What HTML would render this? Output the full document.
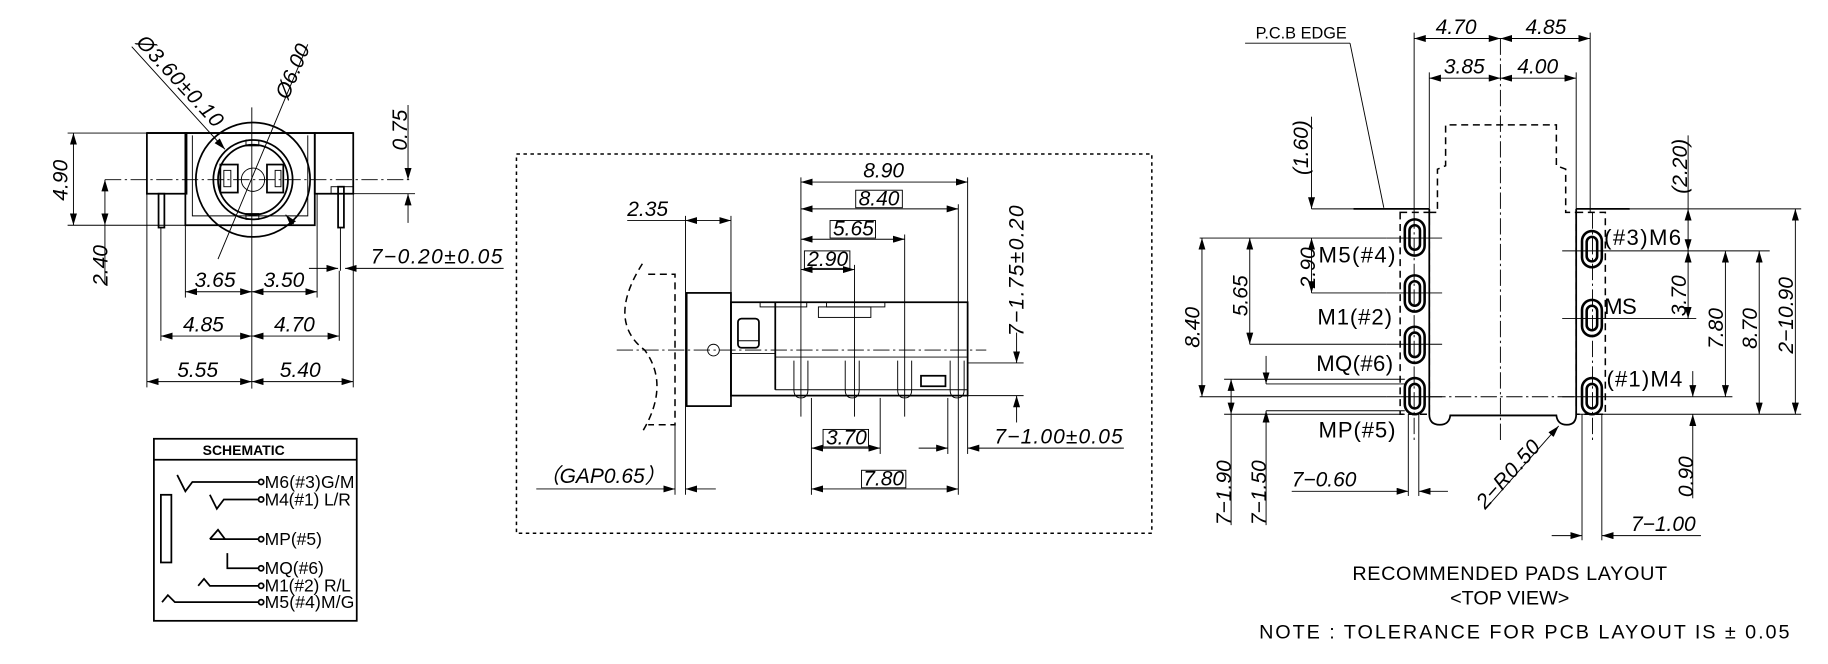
<!DOCTYPE html>
<html><head><meta charset="utf-8"><style>
html,body{margin:0;padding:0;background:#fff;}
svg{display:block}
text{font-family:"Liberation Sans",sans-serif;fill:#000;}
.d{font-style:italic;font-size:18px;}
.n{font-size:19px;}
.t{stroke:#000;stroke-width:0.8;fill:none;}
.o{stroke:#000;stroke-width:1.5;fill:none;}
.dd{stroke:#000;stroke-width:0.8;fill:none;stroke-dasharray:14 3 2 3;}
.da{stroke:#000;stroke-width:1.3;fill:none;stroke-dasharray:6 4;}
</style></head><body>
<svg width="1828" height="664" viewBox="0 0 1568 569" preserveAspectRatio="none" xmlns="http://www.w3.org/2000/svg">
<defs>
<marker id="a" viewBox="0 0 10 6" refX="10" refY="3" markerWidth="10" markerHeight="6" markerUnits="userSpaceOnUse" orient="auto-start-reverse"><path d="M0,0 L10,3 L0,6 z" fill="#000"/></marker>
</defs>

<g>
<line class="t" x1="216" y1="92" x2="216" y2="333"/>
<line class="dd" x1="90" y1="154" x2="352" y2="154"/>
<rect class="o" x="126" y="114" width="34" height="52"/>
<rect class="o" x="270" y="114" width="33" height="52"/>
<rect class="o" x="159" y="114" width="111" height="79"/>
<path class="t" d="M165,116 V185 H264 V116"/>
<line class="o" x1="126" y1="114" x2="303" y2="114"/>
<rect class="o" x="136" y="166" width="5" height="29"/>
<rect class="o" x="290" y="160" width="5" height="35"/>
<rect class="t" x="284" y="160" width="19" height="6"/>
<line class="t" x1="292" y1="195" x2="292" y2="232"/>
<circle class="o" cx="217" cy="154" r="49" fill="#fff"/>
<circle class="o" cx="217" cy="154" r="34"/>
<circle class="o" cx="217" cy="154" r="30"/>
<circle class="t" cx="217" cy="154" r="10"/>
<rect class="o" x="189" y="141" width="15" height="24"/>
<rect class="t" x="192" y="146" width="6" height="14"/>
<rect class="o" x="229" y="141" width="14" height="24"/>
<rect class="t" x="236" y="146" width="5" height="14"/>
<rect class="t" x="211" y="120" width="11" height="5"/>
<rect class="t" x="211" y="183" width="11" height="5"/>
<line class="t" x1="113" y1="40" x2="193" y2="128" marker-end="url(#a)"/>
<line class="t" x1="245" y1="184" x2="252" y2="192" marker-start="url(#a)"/>
<text class="d" transform="translate(116,37) rotate(47)" textLength="100">Ø3.60±0.10</text>
<line class="t" x1="264" y1="38" x2="187" y2="222"/>
<text class="d" transform="translate(247,86) rotate(-67)">Ø6.00</text>
<line class="t" x1="58" y1="114" x2="126" y2="114"/>
<line class="t" x1="58" y1="193" x2="159" y2="193"/>
<line class="t" x1="63" y1="114" x2="63" y2="193" marker-start="url(#a)" marker-end="url(#a)"/>
<text class="d" transform="translate(58,172) rotate(-90)">4.90</text>
<line class="t" x1="90" y1="154" x2="90" y2="193" marker-start="url(#a)" marker-end="url(#a)"/>
<line class="t" x1="90" y1="193" x2="90" y2="244"/>
<text class="d" transform="translate(92,245) rotate(-90)">2.40</text>
<line class="t" x1="303" y1="166" x2="356" y2="166"/>
<line class="t" x1="350" y1="90" x2="350" y2="154" marker-end="url(#a)"/>
<line class="t" x1="350" y1="191" x2="350" y2="166" marker-end="url(#a)"/>
<text class="d" transform="translate(349,129) rotate(-90)">0.75</text>
<line class="t" x1="159" y1="193" x2="159" y2="255"/>
<line class="t" x1="272" y1="166" x2="272" y2="255"/>
<line class="t" x1="138" y1="195" x2="138" y2="292"/>
<line class="t" x1="291" y1="232" x2="291" y2="292"/>
<line class="t" x1="126" y1="166" x2="126" y2="332"/>
<line class="t" x1="303" y1="166" x2="303" y2="332"/>
<line class="t" x1="159" y1="250" x2="216" y2="250" marker-start="url(#a)" marker-end="url(#a)"/>
<line class="t" x1="216" y1="250" x2="272" y2="250" marker-start="url(#a)" marker-end="url(#a)"/>
<text class="d" x="167" y="246">3.65</text><text class="d" x="226" y="246">3.50</text>
<line class="t" x1="138" y1="288" x2="216" y2="288" marker-start="url(#a)" marker-end="url(#a)"/>
<line class="t" x1="216" y1="288" x2="291" y2="288" marker-start="url(#a)" marker-end="url(#a)"/>
<text class="d" x="157" y="284">4.85</text><text class="d" x="235" y="284">4.70</text>
<line class="t" x1="126" y1="327" x2="216" y2="327" marker-start="url(#a)" marker-end="url(#a)"/>
<line class="t" x1="216" y1="327" x2="303" y2="327" marker-start="url(#a)" marker-end="url(#a)"/>
<text class="d" x="152" y="323">5.55</text><text class="d" x="240" y="323">5.40</text>
<line class="t" x1="265" y1="230" x2="290" y2="230" marker-end="url(#a)"/>
<line class="t" x1="432" y1="230" x2="296" y2="230" marker-end="url(#a)"/>
<text class="d" x="318" y="226" textLength="113">7−0.20±0.05</text>
</g>

<g>
<rect class="o" x="132" y="376" width="174" height="156"/>
<line class="o" x1="132" y1="394" x2="306" y2="394"/>
<text x="209" y="390" text-anchor="middle" style="font-size:12px;font-weight:bold">SCHEMATIC</text>
<g style="font-size:15px">
<polyline class="o" points="152,407 159,421 165,413 222,413"/><circle cx="224" cy="413" r="2.2" class="o"/><text x="227" y="418" textLength="77">M6(#3)G/M</text>
<polyline class="o" points="180,424 186,436 192,428 222,428"/><circle cx="224" cy="428" r="2.2" class="o"/><text x="227" y="433" textLength="74">M4(#1) L/R</text>
<polyline class="o" points="180,462 187,454 193,462 180,462"/><line class="o" x1="193" y1="462" x2="222" y2="462"/><circle cx="224" cy="462" r="2.2" class="o"/><text x="227" y="467">MP(#5)</text>
<polyline class="o" points="195,474 195,487 222,487"/><circle cx="224" cy="487" r="2.2" class="o"/><text x="227" y="492">MQ(#6)</text>
<polyline class="o" points="170,502 175,496 180,502 222,502"/><circle cx="224" cy="502" r="2.2" class="o"/><text x="227" y="507" textLength="74">M1(#2) R/L</text>
<polyline class="o" points="139,516 144,510 150,516 222,516"/><circle cx="224" cy="516" r="2.2" class="o"/><text x="227" y="521" textLength="77">M5(#4)M/G</text>
</g>
<rect class="o" x="138" y="424" width="9" height="58"/>
</g>

<g>
<rect x="443" y="132" width="545" height="325" fill="none" stroke="#000" stroke-width="1.3" stroke-dasharray="3 3"/>
<path class="da" d="M551,226 Q520,275 553,300 Q575,330 551,370"/>
<path class="da" d="M556,235 H579 V364 H556"/>
<rect class="o" x="589" y="251" width="38" height="97"/>
<circle class="t" cx="612" cy="300" r="5"/>
<rect class="o" x="627" y="259" width="203" height="80"/>
<line class="o" x1="665" y1="259" x2="665" y2="334"/>
<line class="t" x1="627" y1="303" x2="665" y2="303"/>
<rect class="o" x="633" y="273" width="18" height="25" rx="3"/>
<line class="t" x1="633" y1="292" x2="651" y2="292"/>
<rect class="t" x="702" y="263" width="45" height="9"/>
<rect class="t" x="652" y="259" width="40" height="4"/>
<rect class="t" x="709" y="259" width="50" height="4"/>
<line class="t" x1="665" y1="306" x2="830" y2="306"/>
<line class="t" x1="665" y1="334" x2="830" y2="334"/>
<g class="t">
<path d="M681,309 V334 Q681,341 687,341 Q693,341 693,334 V309"/>
<path d="M725,309 V334 Q725,341 731,341 Q737,341 737,334 V309"/>
<path d="M770,309 V334 Q770,341 776,341 Q782,341 782,334 V309"/>
<path d="M815,309 V334 Q815,341 821,341 Q827,341 827,334 V309"/>
</g>
<rect class="o" x="790" y="322" width="21" height="9"/>
<line class="dd" x1="529" y1="300" x2="846" y2="300"/>
<line class="t" x1="588" y1="185" x2="588" y2="424"/>
<line class="t" x1="627" y1="185" x2="627" y2="259"/>
<line class="t" x1="579" y1="364" x2="579" y2="424"/>
<line class="t" x1="687" y1="152" x2="687" y2="357"/>
<line class="t" x1="733" y1="227" x2="733" y2="357"/>
<line class="t" x1="776" y1="201" x2="776" y2="357"/>
<line class="t" x1="822" y1="175" x2="822" y2="424"/>
<line class="t" x1="830" y1="152" x2="830" y2="259"/>
<line class="t" x1="696" y1="341" x2="696" y2="424"/>
<line class="t" x1="755" y1="341" x2="755" y2="389"/>
<line class="t" x1="813" y1="341" x2="813" y2="389"/>
<line class="t" x1="830" y1="339" x2="830" y2="389"/>
<line class="t" x1="687" y1="156" x2="830" y2="156" marker-start="url(#a)" marker-end="url(#a)"/>
<text class="d" x="758" y="152" text-anchor="middle">8.90</text>
<line class="t" x1="687" y1="179" x2="822" y2="179" marker-start="url(#a)" marker-end="url(#a)"/>
<rect class="t" x="734" y="163" width="40" height="15"/><text class="d" x="754" y="176" text-anchor="middle">8.40</text>
<line class="t" x1="687" y1="205" x2="776" y2="205" marker-start="url(#a)" marker-end="url(#a)"/>
<rect class="t" x="712" y="189" width="39" height="15"/><text class="d" x="732" y="202" text-anchor="middle">5.65</text>
<line class="t" x1="687" y1="231" x2="733" y2="231" marker-start="url(#a)" marker-end="url(#a)"/>
<rect class="t" x="690" y="215" width="39" height="15"/><text class="d" x="710" y="228" text-anchor="middle">2.90</text>
<line class="t" x1="538" y1="189" x2="588" y2="189"/>
<line class="t" x1="588" y1="189" x2="627" y2="189" marker-start="url(#a)" marker-end="url(#a)"/>
<text class="d" x="538" y="185">2.35</text>
<line class="t" x1="460" y1="419" x2="579" y2="419" marker-end="url(#a)"/>
<line class="t" x1="614" y1="419" x2="588" y2="419" marker-end="url(#a)"/>
<text class="d" x="462" y="414">（GAP0.65）</text>
<line class="t" x1="696" y1="384" x2="755" y2="384" marker-start="url(#a)" marker-end="url(#a)"/>
<rect class="t" x="706" y="368" width="39" height="15"/><text class="d" x="726" y="381" text-anchor="middle">3.70</text>
<line class="t" x1="696" y1="419" x2="822" y2="419" marker-start="url(#a)" marker-end="url(#a)"/>
<rect class="t" x="739" y="403" width="38" height="15"/><text class="d" x="758" y="416" text-anchor="middle">7.80</text>
<line class="t" x1="788" y1="384" x2="813" y2="384" marker-end="url(#a)"/>
<line class="t" x1="964" y1="384" x2="830" y2="384" marker-end="url(#a)"/>
<text class="d" x="853" y="380" textLength="110">7−1.00±0.05</text>
<line class="t" x1="830" y1="311" x2="878" y2="311"/>
<line class="t" x1="830" y1="339" x2="878" y2="339"/>
<line class="t" x1="872" y1="285" x2="872" y2="311" marker-end="url(#a)"/>
<line class="t" x1="872" y1="362" x2="872" y2="339" marker-end="url(#a)"/>
<text class="d" transform="translate(878,288) rotate(-90)" textLength="112">7−1.75±0.20</text>
</g>

<g>
<text x="1077" y="33" style="font-size:14px">P.C.B EDGE</text>
<line class="t" x1="1068" y1="37" x2="1158" y2="37"/>
<line class="t" x1="1158" y1="37" x2="1187" y2="178"/>
<line class="o" x1="1161" y1="179" x2="1226" y2="179"/>
<line class="o" x1="1352" y1="179" x2="1398" y2="179"/>
<line class="t" x1="1125" y1="179" x2="1161" y2="179"/>
<line class="t" x1="1398" y1="179" x2="1545" y2="179"/>
<path class="o" d="M1226,179 V355 Q1226,364 1235,364 Q1243,364 1244,356 H1335 Q1336,364 1344,364 Q1352,364 1352,355 V179"/>
<path class="da" d="M1233,179 V145 L1240,142 V107 H1335 V142 L1343,145 V182 H1352"/>
<line class="da" x1="1226" y1="182" x2="1233" y2="182"/>
<rect class="da" x="1201" y="182" width="25" height="173"/>
<rect class="da" x="1352" y="182" width="25" height="173"/>
<line class="dd" x1="1287" y1="33" x2="1287" y2="378"/>
<line class="dd" x1="1226" y1="340" x2="1352" y2="340"/>
<g>
<g class="o" style="stroke-width:2.2">
<rect x="1205" y="188" width="17" height="31" rx="8.5"/><rect x="1209" y="193" width="9" height="21" rx="4.5"/>
<rect x="1205" y="236" width="17" height="31" rx="8.5"/><rect x="1209" y="241" width="9" height="21" rx="4.5"/>
<rect x="1205" y="280" width="17" height="31" rx="8.5"/><rect x="1209" y="285" width="9" height="21" rx="4.5"/>
<rect x="1205" y="324" width="17" height="31" rx="8.5"/><rect x="1209" y="329" width="9" height="21" rx="4.5"/>
<rect x="1357" y="198" width="17" height="31" rx="8.5"/><rect x="1361" y="203" width="9" height="21" rx="4.5"/>
<rect x="1357" y="257" width="17" height="31" rx="8.5"/><rect x="1361" y="262" width="9" height="21" rx="4.5"/>
<rect x="1357" y="324" width="17" height="31" rx="8.5"/><rect x="1361" y="329" width="9" height="21" rx="4.5"/>
</g>
<line class="dd" x1="1213" y1="182" x2="1213" y2="380"/>
<line class="dd" x1="1366" y1="182" x2="1366" y2="380"/>
<line class="t" x1="1189" y1="204" x2="1237" y2="204"/>
<line class="t" x1="1189" y1="251" x2="1237" y2="251"/>
<line class="t" x1="1189" y1="295" x2="1237" y2="295"/>
<line class="t" x1="1189" y1="340" x2="1237" y2="340"/>
<line class="t" x1="1340" y1="215" x2="1390" y2="215"/>
<line class="t" x1="1340" y1="273" x2="1390" y2="273"/>
<line class="t" x1="1340" y1="340" x2="1390" y2="340"/>
</g>
<g class="n">
<text x="1131" y="225" textLength="66">M5(#4)</text>
<text x="1130" y="278" textLength="64">M1(#2)</text>
<text x="1129" y="318" textLength="66">MQ(#6)</text>
<text x="1131" y="375" textLength="66">MP(#5)</text>
<text x="1376" y="210" textLength="66">(#3)M6</text>
<text x="1376" y="269" textLength="28">MS</text>
<text x="1378" y="331" textLength="65">(#1)M4</text>
</g>
<line class="t" x1="1213" y1="28" x2="1213" y2="182"/>
<line class="t" x1="1364" y1="28" x2="1364" y2="182"/>
<line class="t" x1="1226" y1="62" x2="1226" y2="179"/>
<line class="t" x1="1352" y1="62" x2="1352" y2="179"/>
<line class="t" x1="1213" y1="33" x2="1287" y2="33" marker-start="url(#a)" marker-end="url(#a)"/>
<line class="t" x1="1287" y1="33" x2="1364" y2="33" marker-start="url(#a)" marker-end="url(#a)"/>
<text class="d" x="1249" y="29" text-anchor="middle">4.70</text>
<text class="d" x="1326" y="29" text-anchor="middle">4.85</text>
<line class="t" x1="1226" y1="67" x2="1287" y2="67" marker-start="url(#a)" marker-end="url(#a)"/>
<line class="t" x1="1287" y1="67" x2="1352" y2="67" marker-start="url(#a)" marker-end="url(#a)"/>
<text class="d" x="1256" y="63" text-anchor="middle">3.85</text>
<text class="d" x="1319" y="63" text-anchor="middle">4.00</text>
<line class="t" x1="1125" y1="100" x2="1125" y2="179" marker-end="url(#a)"/>
<text class="d" transform="translate(1122,150) rotate(-90)">(1.60)</text>
<line class="t" x1="1125" y1="204" x2="1189" y2="204"/>
<line class="t" x1="1125" y1="251" x2="1189" y2="251"/>
<line class="t" x1="1125" y1="204" x2="1125" y2="251" marker-start="url(#a)" marker-end="url(#a)"/>
<text class="d" transform="translate(1128,247) rotate(-90)">2.90</text>
<line class="t" x1="1029" y1="204" x2="1125" y2="204"/>
<line class="t" x1="1072" y1="295" x2="1189" y2="295"/>
<line class="t" x1="1072" y1="204" x2="1072" y2="295" marker-start="url(#a)" marker-end="url(#a)"/>
<text class="d" transform="translate(1070,271) rotate(-90)">5.65</text>
<line class="t" x1="1029" y1="340" x2="1189" y2="340"/>
<line class="t" x1="1031" y1="204" x2="1031" y2="340" marker-start="url(#a)" marker-end="url(#a)"/>
<text class="d" transform="translate(1029,298) rotate(-90)">8.40</text>
<line class="t" x1="1050" y1="325" x2="1205" y2="325"/>
<line class="t" x1="1050" y1="355" x2="1205" y2="355"/>
<line class="t" x1="1056" y1="325" x2="1056" y2="355" marker-start="url(#a)" marker-end="url(#a)"/>
<line class="t" x1="1056" y1="355" x2="1056" y2="450"/>
<text class="d" transform="translate(1056,450) rotate(-90)">7−1.90</text>
<line class="t" x1="1086" y1="329" x2="1205" y2="329"/>
<line class="t" x1="1086" y1="352" x2="1205" y2="352"/>
<line class="t" x1="1086" y1="305" x2="1086" y2="329" marker-end="url(#a)"/>
<line class="t" x1="1086" y1="450" x2="1086" y2="352" marker-end="url(#a)"/>
<text class="d" transform="translate(1086,450) rotate(-90)">7−1.50</text>
<line class="t" x1="1208" y1="355" x2="1208" y2="425"/>
<line class="t" x1="1217" y1="355" x2="1217" y2="425"/>
<line class="t" x1="1108" y1="421" x2="1208" y2="421" marker-end="url(#a)"/>
<line class="t" x1="1242" y1="421" x2="1217" y2="421" marker-end="url(#a)"/>
<text class="d" x="1108" y="417">7−0.60</text>
<line class="t" x1="1276" y1="434" x2="1337" y2="365" marker-end="url(#a)"/>
<text class="d" transform="translate(1274,437) rotate(-48)" textLength="72">2−R0.50</text>
<line class="t" x1="1357" y1="355" x2="1357" y2="463"/>
<line class="t" x1="1374" y1="355" x2="1374" y2="463"/>
<line class="t" x1="1331" y1="459" x2="1357" y2="459" marker-end="url(#a)"/>
<line class="t" x1="1459" y1="459" x2="1374" y2="459" marker-end="url(#a)"/>
<text class="d" x="1399" y="455">7−1.00</text>
<line class="t" x1="1390" y1="215" x2="1518" y2="215"/>
<line class="t" x1="1390" y1="273" x2="1455" y2="273"/>
<line class="t" x1="1390" y1="340" x2="1486" y2="340"/>
<line class="t" x1="1352" y1="355" x2="1545" y2="355"/>
<line class="t" x1="1448" y1="116" x2="1448" y2="179" />
<line class="t" x1="1448" y1="179" x2="1448" y2="215" marker-start="url(#a)" marker-end="url(#a)"/>
<text class="d" transform="translate(1447,166) rotate(-90)">(2.20)</text>
<line class="t" x1="1448" y1="215" x2="1448" y2="273" marker-start="url(#a)" marker-end="url(#a)"/>
<text class="d" transform="translate(1446,271) rotate(-90)">3.70</text>
<line class="t" x1="1452" y1="318" x2="1452" y2="340" marker-end="url(#a)"/>
<line class="t" x1="1452" y1="427" x2="1452" y2="355" marker-end="url(#a)"/>
<text class="d" transform="translate(1452,426) rotate(-90)">0.90</text>
<line class="t" x1="1480" y1="215" x2="1480" y2="340" marker-start="url(#a)" marker-end="url(#a)"/>
<text class="d" transform="translate(1478,299) rotate(-90)">7.80</text>
<line class="t" x1="1509" y1="215" x2="1509" y2="355" marker-start="url(#a)" marker-end="url(#a)"/>
<text class="d" transform="translate(1507,299) rotate(-90)">8.70</text>
<line class="t" x1="1540" y1="179" x2="1540" y2="355" marker-start="url(#a)" marker-end="url(#a)"/>
<text class="d" transform="translate(1538,303) rotate(-90)">2−10.90</text>
<text x="1160" y="497" style="font-size:17px" textLength="270">RECOMMENDED PADS LAYOUT</text>
<text x="1295" y="518" style="font-size:17px" text-anchor="middle">&lt;TOP VIEW&gt;</text>
<text x="1080" y="547" style="font-size:17px" textLength="455">NOTE : TOLERANCE FOR PCB LAYOUT IS ± 0.05</text>
</g>
</svg>
</body></html>
